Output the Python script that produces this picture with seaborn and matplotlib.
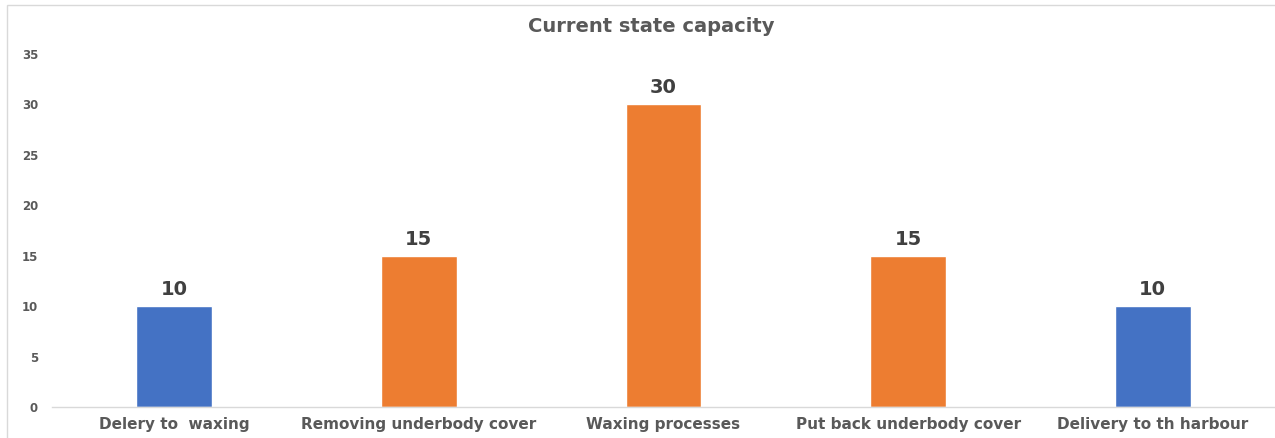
import matplotlib
matplotlib.use("Agg")
import matplotlib.pyplot as plt
import seaborn as sns
import pandas as pd
from matplotlib.patches import Rectangle

categories = ["Delery to  waxing", "Removing underbody cover", "Waxing processes",
              "Put back underbody cover", "Delivery to th harbour"]
values = [10, 15, 30, 15, 10]
bar_colors = ["#4472C4", "#ED7D31", "#ED7D31", "#ED7D31", "#4472C4"]
yticks = [0, 5, 10, 15, 20, 25, 30, 35]
title = "Current state capacity"

sns.set_theme(style="white")
plt.rcParams['font.family'] = ['DejaVu Sans']

df = pd.DataFrame({"cat": categories, "val": values})

fig = plt.figure(figsize=(12.75, 4.38), dpi=100)
ax = fig.add_axes([52/1275, 31/438, 1 - 52/1275, (407-54)/438])

sns.barplot(data=df, x="cat", y="val", hue="cat", palette=bar_colors,
            width=0.31, legend=False, ax=ax, saturation=1)

ax.set_ylim(0, 35)
ax.set_xlim(-0.5, 4.5)
ax.set_yticks(yticks)
ax.set_yticklabels([str(t) for t in yticks], fontsize=8.5, fontweight="bold", color="#595959")
ax.tick_params(axis="y", length=0, pad=10)
ax.tick_params(axis="x", length=0, pad=7)
for lbl in ax.get_xticklabels():
    lbl.set_fontsize(11)
    lbl.set_fontweight("bold")
    lbl.set_color("#595959")
ax.set_xlabel("")
ax.set_ylabel("")
for s in ["top", "right", "left"]:
    ax.spines[s].set_visible(False)
ax.spines["bottom"].set_color("#D9D9D9")
ax.spines["bottom"].set_linewidth(1)

for c in ax.containers:
    ax.bar_label(c, fontsize=14, fontweight="bold", color="#404040", padding=5)

fig.text(651/1275, 1 - 26/438, title, ha="center", va="center",
         fontsize=14, fontweight="bold", color="#595959")

fig.patches.append(Rectangle((7/1275, -0.1), 1.2, 1 - 5/438 + 0.1, transform=fig.transFigure,
                             fill=False, edgecolor="#D9D9D9", linewidth=1))

fig.savefig("out.png", dpi=100)
